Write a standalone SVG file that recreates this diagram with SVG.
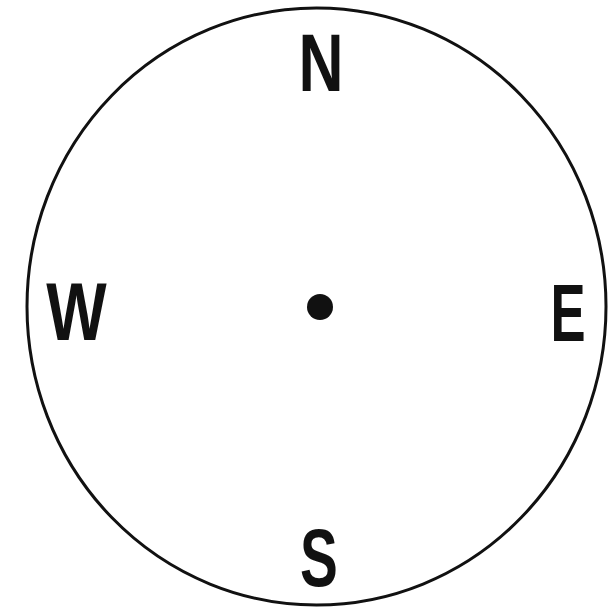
<svg xmlns="http://www.w3.org/2000/svg" width="608" height="610" viewBox="0 0 608 610">
<style>
.lbl{font-family:"Liberation Sans",Arial,sans-serif;font-weight:bold;font-size:81px;fill:#111;text-anchor:middle}
</style>
<rect width="608" height="610" fill="#fff"/>
<g id="dial">
<ellipse cx="316.5" cy="306.5" rx="289.5" ry="298.5" fill="none" stroke="#111" stroke-width="3"/>
<circle cx="320" cy="307" r="13" fill="#111"/>
</g>
<g id="N"><text class="lbl" transform="translate(321,91) scale(0.77,1)">N</text></g>
<g id="W"><text class="lbl" transform="translate(76.5,340) scale(0.79,1)">W</text></g>
<g id="E"><text class="lbl" transform="translate(568,341) scale(0.65,1)">E</text></g>
<g id="S"><text class="lbl" transform="translate(319,586) scale(0.7,1)">S</text></g>
</svg>
